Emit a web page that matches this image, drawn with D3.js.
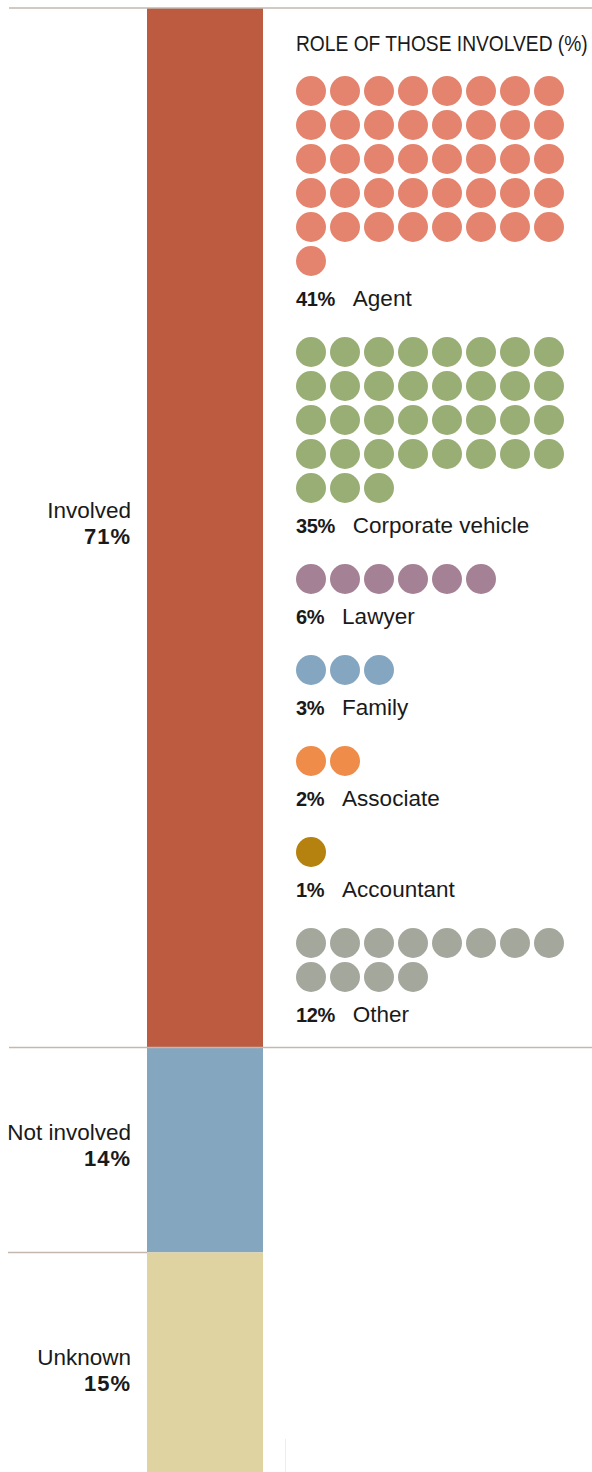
<!DOCTYPE html>
<html>
<head>
<meta charset="utf-8">
<script src="https://cdn.jsdelivr.net/npm/d3@7"></script>
<style>
  body { margin: 0; background: #fff; }
  text { font-family: "Liberation Sans", Arial, sans-serif; fill: #1a1a1a; }
</style>
</head>
<body>
<div id="chart"></div>
<script>
// stacked bar: involvement
var segNames = ['Involved', 'Not involved', 'Unknown'];
var segValues = [71, 14, 15];
var segColors = ['#bc5b3f', '#84a6bf', '#e0d3a2'];

// dot groups: role of those involved
var roleNames = ['Agent', 'Corporate vehicle', 'Lawyer', 'Family', 'Associate', 'Accountant', 'Other'];
var roleValues = [41, 35, 6, 3, 2, 1, 12];
var roleColors = ['#e4846e', '#99ae74', '#a58195', '#85a6c0', '#ef8c4a', '#b5810f', '#a3a79c'];

var roleTitle = 'ROLE OF THOSE INVOLVED (%)';

function drawChart(divId) {
    var width = 592, height = 1472;

    var svg = d3.select(divId)
        .append('svg')
        .attr('width', width)
        .attr('height', height);

    // vertical scale for the stacked bar
    var y = d3.scaleLinear()
        .domain([0, 100])
        .range([8, 1472]);

    var stacked = [];
    var acc = 0;
    segValues.forEach(function(v, i) {
        stacked.push({ name: segNames[i], value: v, y0: acc, y1: acc + v, color: segColors[i] });
        acc += v;
    });

    var barX = 147, barW = 116;

    svg.selectAll('rect.seg')
        .data(stacked)
        .enter()
        .append('rect')
        .attr('class', 'seg')
        .attr('x', barX)
        .attr('width', barW)
        .attr('y', d => y(d.y0))
        .attr('height', d => y(d.y1) - y(d.y0))
        .attr('fill', d => d.color);

    // separator rules
    var lineColor = '#c2b8b0';
    svg.append('line')
        .attr('x1', 9).attr('x2', width)
        .attr('y1', y(0)).attr('y2', y(0))
        .attr('stroke', lineColor).attr('stroke-width', 1.5);
    svg.append('line')
        .attr('x1', 9).attr('x2', width)
        .attr('y1', y(stacked[1].y0)).attr('y2', y(stacked[1].y0))
        .attr('stroke', lineColor).attr('stroke-width', 1.5);
    svg.append('line')
        .attr('x1', 8).attr('x2', barX)
        .attr('y1', y(stacked[2].y0)).attr('y2', y(stacked[2].y0))
        .attr('stroke', lineColor).attr('stroke-width', 1.5);
    svg.append('line')
        .attr('x1', 285.5).attr('x2', 285.5)
        .attr('y1', 1439).attr('y2', height)
        .attr('stroke', '#efece4').attr('stroke-width', 1);

    // segment labels (the last one sits a little lower, as in the original)
    var labelShift = [0, 0, 13];
    var segLabels = svg.selectAll('g.seglabel')
        .data(stacked)
        .enter()
        .append('g')
        .attr('class', 'seglabel')
        .attr('transform', (d, i) => 'translate(131,' + ((y(d.y0) + y(d.y1)) / 2 + labelShift[i]) + ')');

    segLabels.append('text')
        .attr('text-anchor', 'end')
        .attr('y', -10)
        .style('font-size', '22.5px')
        .text(d => d.name);
    segLabels.append('text')
        .attr('text-anchor', 'end')
        .attr('y', 16)
        .style('font-size', '22px')
        .style('font-weight', 'bold')
        .style('letter-spacing', '1px')
        .text(d => d.value + '%');

    // title, squeezed horizontally to the original's narrow width
    var title = svg.append('text')
        .attr('x', 0)
        .attr('y', 0)
        .style('font-size', '21.5px')
        .text(roleTitle);
    var tw = title.node().getComputedTextLength();
    title.attr('transform', 'translate(296,51) scale(' + (292 / tw) + ',1)');

    // dot grids
    var perRow = 8, step = 34, r = 15;
    var dotX = d3.scaleLinear().domain([0, perRow - 1]).range([311, 311 + step * (perRow - 1)]);

    var top = 91;
    roleValues.forEach(function(v, i) {
        var rows = Math.ceil(v / perRow);
        var dots = d3.range(v);
        var g = svg.append('g');
        g.selectAll('circle')
            .data(dots)
            .enter()
            .append('circle')
            .attr('cx', d => dotX(d % perRow))
            .attr('cy', d => top + Math.floor(d / perRow) * step)
            .attr('r', r)
            .attr('fill', roleColors[i]);

        var lastRow = top + (rows - 1) * step;
        var base = lastRow + 45;
        var t = g.append('text')
            .attr('x', 296)
            .attr('y', base);
        t.append('tspan')
            .style('font-size', '20px')
            .style('font-weight', 'bold')
            .style('letter-spacing', '-0.4px')
            .text(v + '%');
        t.append('tspan')
            .attr('dx', 18)
            .style('font-size', '22.5px')
            .text(roleNames[i]);

        top = base + 46;
    });
}

drawChart('#chart');
</script>
</body>
</html>
